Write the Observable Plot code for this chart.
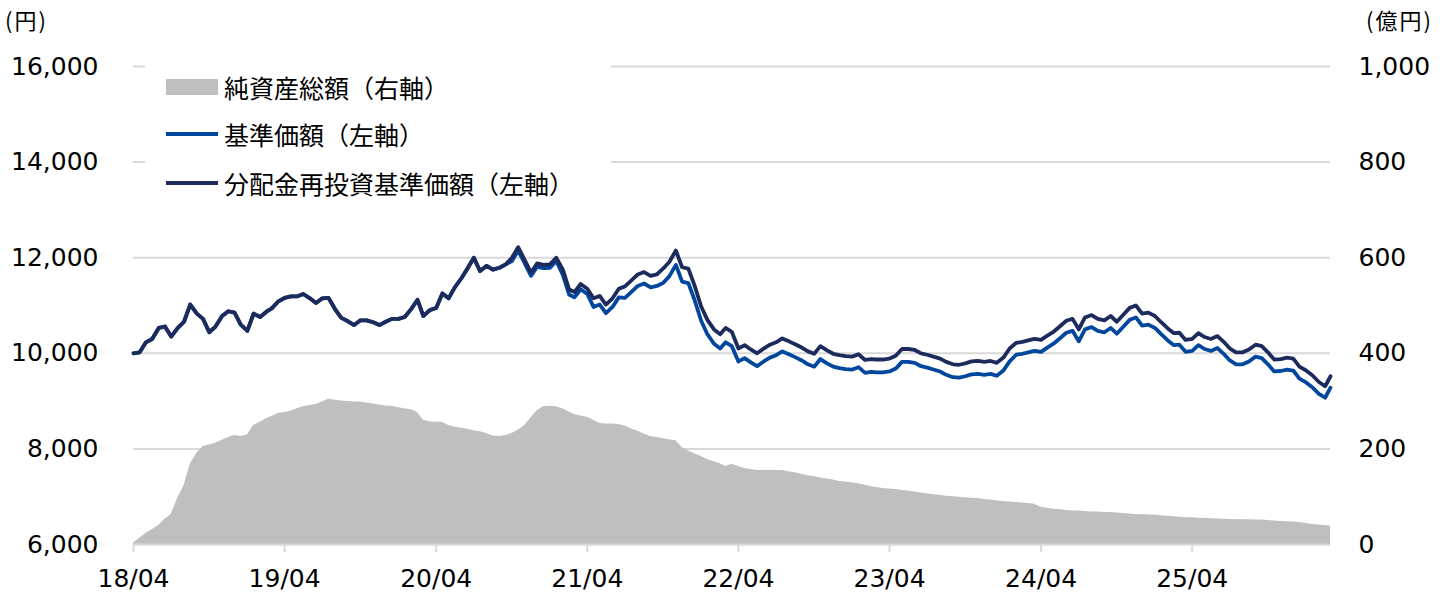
<!DOCTYPE html>
<html><head><meta charset="utf-8">
<script src="https://cdn.jsdelivr.net/npm/d3@7"></script>
<script src="https://cdn.jsdelivr.net/npm/@observablehq/plot@0.6"></script>
<style>
body{margin:0;background:#fff;}
#wrap{position:relative;width:1451px;height:599px;overflow:hidden;background:#fff;}
.unit{position:absolute;top:4px;font-family:"Noto Sans CJK JP";font-size:22px;letter-spacing:2px;color:#000;line-height:30px;}
#legendBg{position:absolute;left:145px;top:56px;width:466px;height:150px;background:#fff;}
.item{position:absolute;left:166px;height:40px;display:flex;align-items:center;font-family:"Noto Sans CJK JP";font-size:25px;color:#000;white-space:nowrap;}
.sw{width:52px;margin-right:6px;}
</style></head><body>
<div id="wrap"></div>
<script>
// 分配金再投資基準価額 (円), semi-monthly from 2018-04-01
const navReinvested = [
10000,10020,10230,10300,10530,10560,10350,10520,10660,11020,10830,10720,10440,10560,10780,10880,10850,10600,10470,10830,10760,10870,10940,11080,
11160,11190,11190,11240,11150,11050,11150,11160,10920,10740,10670,10590,10690,10690,10650,10590,10660,10720,10720,10760,10930,11120,10780,10900,
10950,11250,11150,11380,11570,11780,12000,11720,11830,11750,11790,11860,12000,12220,11950,11690,11880,11850,11860,12000,11750,11340,11280,11450,
11350,11150,11200,11020,11150,11350,11400,11520,11650,11700,11620,11650,11770,11910,12150,11800,11770,11420,10980,10700,10500,10400,10530,10450,
10100,10170,10080,10000,10100,10180,10230,10310,10250,10190,10120,10040,9990,10150,10060,9990,9960,9940,9930,9980,9860,9880,9870,9870,
9890,9950,10090,10090,10070,10000,9970,9930,9890,9820,9770,9760,9790,9830,9840,9820,9840,9800,9910,10100,10220,10240,10270,10300,
10280,10370,10450,10560,10680,10720,10500,10750,10800,10720,10690,10780,10660,10800,10950,11000,10830,10850,10780,10650,10520,10420,10430,10280,
10300,10420,10340,10300,10360,10240,10100,10020,10020,10080,10180,10150,10020,9870,9880,9910,9890,9720,9640,9540,9400,9310,9520
];
// 基準価額 (円)
const nav = [
10000,10020,10230,10300,10530,10560,10350,10520,10660,11020,10830,10720,10440,10560,10780,10880,10850,10600,10470,10830,10760,10870,10940,11080,
11160,11190,11190,11240,11150,11050,11150,11160,10920,10740,10670,10590,10690,10690,10650,10590,10660,10720,10720,10760,10930,11120,10780,10900,
10950,11250,11150,11380,11570,11780,12000,11720,11830,11750,11790,11860,11930,12150,11880,11620,11810,11780,11790,11930,11640,11230,11170,11340,
11240,10970,11020,10840,10970,11170,11160,11280,11410,11460,11380,11410,11470,11610,11850,11500,11470,11120,10680,10400,10200,10100,10230,10150,
9830,9900,9810,9730,9830,9910,9960,10040,9980,9920,9850,9770,9720,9880,9790,9720,9690,9670,9660,9710,9590,9610,9600,9600,
9620,9680,9820,9820,9800,9730,9700,9660,9620,9550,9500,9490,9520,9560,9570,9550,9570,9530,9640,9830,9970,9990,10020,10050,
10030,10120,10200,10310,10430,10470,10250,10500,10550,10470,10440,10530,10410,10550,10700,10750,10580,10600,10530,10400,10270,10170,10180,10030,
10050,10170,10090,10050,10110,9990,9850,9770,9770,9830,9930,9900,9770,9620,9630,9660,9640,9470,9390,9290,9150,9070,9280
];
// 純資産総額 (億円)
const netAssets = [
3,13,23,31,40,53,63,95,123,168,191,205,208,212,218,224,228,226,229,249,256,263,268,274,
276,279,284,288,291,293,298,304,302,300,299,298,298,296,294,292,290,289,286,284,282,276,260,257,
256,256,249,246,243,241,238,236,232,227,226,228,232,239,249,265,280,288,289,288,284,277,272,269,
266,260,253,252,252,251,248,242,237,231,226,224,221,219,217,203,196,190,184,178,173,169,163,168,
163,159,157,155,155,155,155,155,152,150,147,144,142,139,137,135,132,131,129,127,124,121,119,117,
116,115,113,112,110,108,106,104,103,101,100,99,98,97,96,94,93,91,90,89,88,87,86,84,
78,76,74,73,71,70,70,69,68,68,67,67,66,65,64,63,62.5,62,61,60,59,58,57,56,
56,55,54.5,54,53.6,53,52.5,52,51.8,51.6,51.5,51,50,49,48,47.5,47,46,44,42,41,40,38
];
const leftTicks = [6000, 8000, 10000, 12000, 14000, 16000];
const rightTicks = [0, 200, 400, 600, 800, 1000];
const xTickLabels = ["18/04","19/04","20/04","21/04","22/04","23/04","24/04","25/04"];
const seriesNames = ["純資産総額（右軸）","基準価額（左軸）","分配金再投資基準価額（左軸）"];
const unitLabels = ["(円)", "(億円)"];
const colors = {assets:"#bfbfbf", nav:"#00479d", navR:"#1c2b5c", grid:"#d9d9d9"};

// semi-monthly dates: 1st and 16th of each month from 2018-04
const dates = navReinvested.map((_, k) => new Date(Date.UTC(2018, 3 + Math.floor(k / 2), k % 2 ? 16 : 1)));
const data = dates.map((date, i) => ({date, navR: navReinvested[i], nav: nav[i], assets: netAssets[i]}));
const xTicks = xTickLabels.map(s => new Date(Date.UTC(2000 + +s.slice(0, 2), +s.slice(3) - 1, 1)));

// right axis (億円) mapped onto left scale: 0..1000 -> 6000..16000
const toLeft = v => 6000 + v * 10;

const chart = Plot.plot({
  width: 1451, height: 599,
  marginLeft: 133, marginRight: 121, marginTop: 66, marginBottom: 55,
  x: {type: "utc", domain: [dates[0], dates[dates.length - 1]]},
  y: {domain: [6000, 16000]},
  style: {fontFamily: "'DejaVu Sans', Verdana, sans-serif", fontSize: "25px", color: "#000", background: "#fff", overflow: "visible"},
  marks: [
    Plot.ruleY(leftTicks, {stroke: colors.grid, strokeWidth: 2}),
    Plot.areaY(data, {x: "date", y1: 6000, y2: d => toLeft(d.assets), fill: colors.assets}),
    Plot.ruleY([6000], {stroke: colors.grid, strokeWidth: 2}),
    Plot.axisX(xTicks, {tickSize: 8, tickPadding: 17, stroke: colors.grid, strokeWidth: 2, tickFormat: (d, i) => xTickLabels[i] ?? d3.utcFormat("%y/%m")(d), fill: "#000"}),
    Plot.axisY(leftTicks, {anchor: "left", tickSize: 0, tickPadding: 35, tickFormat: d3.format(","), fill: "#000"}),
    Plot.axisY(rightTicks.map(toLeft), {anchor: "right", tickSize: 0, tickPadding: 28, tickFormat: d => d3.format(",")((d - 6000) / 10), fill: "#000"}),
    Plot.lineY(data, {x: "date", y: "nav", stroke: colors.nav, strokeWidth: 3.8}),
    Plot.lineY(data, {x: "date", y: "navR", stroke: colors.navR, strokeWidth: 3.8})
  ]
});

const wrap = document.getElementById("wrap");
wrap.appendChild(chart);

const addDiv = (cls, style, html) => { const d = document.createElement("div"); d.className = cls; Object.assign(d.style, style); d.innerHTML = html; wrap.appendChild(d); return d; };
addDiv("unit", {left: "5px"}, unitLabels[0]);
addDiv("unit", {left: "1366px"}, unitLabels[1]);
addDiv("", {position: "absolute"}, "").id = "legendBg";
const rowsY = [87, 134, 183];
seriesNames.forEach((name, i) => {
  const sw = i === 0
    ? `<span class="sw" style="height:16px;background:${colors.assets};display:inline-block"></span>`
    : `<span class="sw" style="height:4px;background:${i === 1 ? colors.nav : colors.navR};display:inline-block"></span>`;
  addDiv("item", {top: (rowsY[i] - 20) + "px"}, sw + `<span>${name}</span>`);
});
</script>
</body></html>
